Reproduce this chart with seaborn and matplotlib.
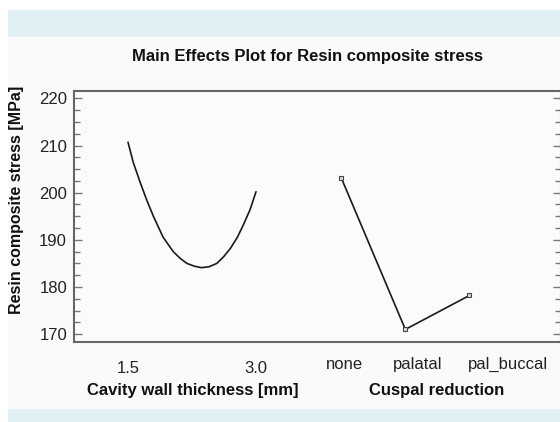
import matplotlib
matplotlib.use("Agg")
import matplotlib.pyplot as plt
import matplotlib.patches as mpatches
from matplotlib.ticker import MultipleLocator
import seaborn as sns

# -----------------------------------
# DATA
# -----------------------------------

# Cavity wall thickness [mm] -> fitted stress curve
thickness = [1.50, 1.56, 1.64, 1.72, 1.80, 1.91, 2.03, 2.11, 2.19, 2.28, 2.36,
             2.45, 2.54, 2.62, 2.70, 2.78, 2.85, 2.93, 3.00]
thickness_stress = [210.7, 206.5, 202.3, 198.4, 194.9, 190.6, 187.5, 186.1, 185.0, 184.4, 184.1,
                    184.3, 185.0, 186.4, 188.2, 190.5, 193.1, 196.4, 200.2]
thickness_ticks = [1.5, 3.0]
thickness_labels = ["1.5", "3.0"]

# Cuspal reduction -> level means
cuspal_levels = ["none", "palatal", "pal_buccal"]
cuspal_stress = [203.1, 171.0, 178.2]

title = "Main Effects Plot for Resin composite stress"
y_label = "Resin composite stress [MPa]"
x_group_labels = ["Cavity wall thickness [mm]", "Cuspal reduction"]

# layout: where the categorical factor sits on the shared x scale
cuspal_start = 4.0
cuspal_step = 0.75
cuspal_label_pos = [4.04, 4.90, 5.95]


def main():

    sns.set_style("white")
    plt.rcParams['font.family'] = ['Liberation Sans', 'DejaVu Sans']

    fig = plt.figure(figsize=(5.6, 4.22), dpi=100)
    fig.patch.set_facecolor("white")

    W, H = 560.0, 422.0

    # ---------------- BACKGROUND BANDS ----------------
    fig.patches.append(mpatches.Rectangle(
        (8 / W, 13 / H), 1 - 8 / W, 372 / H,
        transform=fig.transFigure, facecolor="#fafafa", edgecolor="none", zorder=-10))
    fig.patches.append(mpatches.Rectangle(
        (8 / W, 385 / H), 1 - 8 / W, 27 / H,
        transform=fig.transFigure, facecolor="#e1f0f4", edgecolor="none", zorder=-10))
    fig.patches.append(mpatches.Rectangle(
        (8 / W, 0), 1 - 8 / W, 13 / H,
        transform=fig.transFigure, facecolor="#e1f0f4", edgecolor="none", zorder=-10))

    # ---------------- MAIN PANEL ----------------
    ax = fig.add_axes([74 / W, 80.3 / H, 487 / W, 250.4 / H])
    ax.set_facecolor("#fbfbfb")

    sns.lineplot(x=thickness, y=thickness_stress, ax=ax,
                 color="#1a1a1a", linewidth=1.2, solid_joinstyle="round")

    cuspal_x = [cuspal_start + i * cuspal_step for i in range(len(cuspal_levels))]
    sns.lineplot(x=cuspal_x, y=cuspal_stress, ax=ax,
                 color="#1a1a1a", linewidth=1.2, marker="s", markersize=3.2,
                 markerfacecolor="#d8d8d8", markeredgecolor="#444444",
                 markeredgewidth=0.8)

    ax.set_xlim(0.867, 6.574)
    ax.set_ylim(168.4, 221.5)

    for side, spine in ax.spines.items():
        spine.set_color("#666666")
        spine.set_linewidth(1.5)

    ax.yaxis.set_major_locator(MultipleLocator(10))
    ax.yaxis.set_minor_locator(MultipleLocator(2.5))
    ax.tick_params(axis="y", which="both", direction="in", left=True, right=True,
                   color="#777777", width=1.0, labelsize=12, labelcolor="#222222", pad=5)
    ax.tick_params(axis="y", which="major", length=6)
    ax.tick_params(axis="y", which="minor", length=4)

    ax.set_xticks(thickness_ticks)
    ax.set_xticklabels(thickness_labels)
    ax.tick_params(axis="x", which="both", length=0, labelsize=12,
                   labelcolor="#222222", pad=14)

    for pos, lab in zip(cuspal_label_pos, cuspal_levels):
        ax.text(pos, -0.06, lab, transform=ax.get_xaxis_transform(),
                ha="center", va="top", fontsize=12, color="#222222")

    ax.set_xlabel("")
    ax.set_ylabel("")

    # ---------------- TEXTS ----------------
    fig.text(308 / W, 1 - 57 / H, title, ha="center", va="center",
             fontsize=12, fontweight="bold", color="#111111")
    fig.text(17 / W, 1 - 200 / H, y_label, ha="center", va="center",
             rotation=90, fontsize=11.5, fontweight="bold", color="#111111")
    fig.text(193 / W, 1 - 390 / H, x_group_labels[0], ha="center", va="center",
             fontsize=12, fontweight="bold", color="#111111")
    fig.text(437 / W, 1 - 390 / H, x_group_labels[1], ha="center", va="center",
             fontsize=12, fontweight="bold", color="#111111")

    plt.savefig("out.png", dpi=100, facecolor=fig.get_facecolor())


if __name__ == "__main__":
    main()
